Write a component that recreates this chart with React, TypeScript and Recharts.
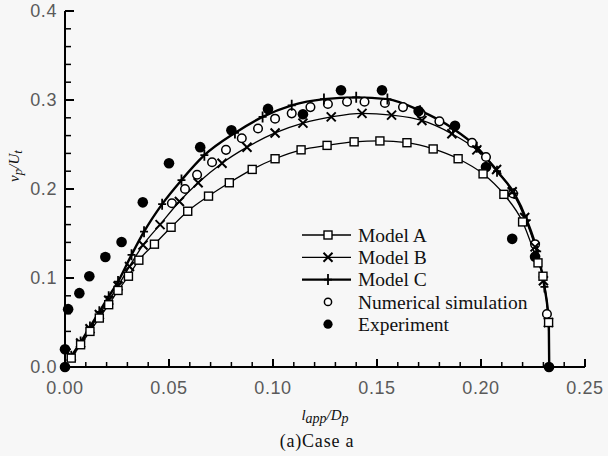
import React from 'react';
import { ComposedChart, Line, Scatter, XAxis, YAxis, Legend } from 'recharts';

// [l_app/D_p, v_p/U_t]
const modelA: [number, number][] = [
  [0.003, 0.010], [0.0075, 0.025], [0.012, 0.040], [0.0165, 0.055], [0.021, 0.070],
  [0.0255, 0.086], [0.0305, 0.102], [0.0355, 0.120], [0.043, 0.138], [0.051, 0.157],
  [0.059, 0.175], [0.069, 0.192], [0.079, 0.207], [0.090, 0.222], [0.101, 0.234],
  [0.1135, 0.244], [0.126, 0.249], [0.139, 0.253], [0.1514, 0.254], [0.1644, 0.252],
  [0.177, 0.245], [0.189, 0.234], [0.201, 0.217], [0.211, 0.194], [0.220, 0.163],
  [0.2274, 0.117], [0.2298, 0.102], [0.2325, 0.050], [0.2328, 0.0],
];

const modelB: [number, number][] = [
  [0.003, 0.012], [0.0075, 0.027], [0.012, 0.043], [0.0165, 0.059], [0.021, 0.075],
  [0.0255, 0.091], [0.031, 0.113], [0.0375, 0.137], [0.0457, 0.160], [0.055, 0.186],
  [0.064, 0.207], [0.0755, 0.229], [0.0875, 0.247], [0.101, 0.263], [0.1144, 0.274],
  [0.128, 0.281], [0.1428, 0.285], [0.157, 0.283], [0.1716, 0.277], [0.186, 0.262],
  [0.198, 0.244], [0.2075, 0.222], [0.215, 0.197], [0.221, 0.168], [0.226, 0.135],
  [0.230, 0.097], [0.2324, 0.050], [0.2328, 0.0],
];

const modelC: [number, number][] = [
  [0.003, 0.012], [0.0075, 0.028], [0.012, 0.045], [0.0165, 0.062], [0.021, 0.079],
  [0.0255, 0.096], [0.032, 0.126], [0.038, 0.152], [0.0467, 0.183], [0.056, 0.210],
  [0.067, 0.238], [0.0817, 0.263], [0.095, 0.281], [0.109, 0.294], [0.1245, 0.301],
  [0.140, 0.303], [0.155, 0.301], [0.1707, 0.288], [0.1865, 0.268], [0.198, 0.247],
  [0.2077, 0.220], [0.216, 0.195], [0.222, 0.165], [0.227, 0.130], [0.2305, 0.090],
  [0.2326, 0.050], [0.2328, 0.0],
];

const numerical: [number, number][] = [
  [0.0514, 0.184], [0.0577, 0.200], [0.0635, 0.216], [0.0707, 0.230], [0.0774, 0.244],
  [0.085, 0.257], [0.0928, 0.268], [0.101, 0.279], [0.109, 0.285], [0.118, 0.292],
  [0.1264, 0.2955], [0.1356, 0.298], [0.144, 0.298], [0.1538, 0.2966], [0.1625, 0.292],
  [0.171, 0.285], [0.180, 0.276], [0.1957, 0.252], [0.2024, 0.236], [0.2154, 0.195],
  [0.226, 0.138], [0.2317, 0.0596],
];

const experiment: [number, number][] = [
  [0.0, 0.0], [0.0, 0.020], [0.0015, 0.065], [0.0069, 0.083], [0.0117, 0.102],
  [0.0194, 0.1236], [0.0272, 0.1404], [0.0374, 0.185], [0.050, 0.229], [0.065, 0.247],
  [0.080, 0.266], [0.0976, 0.290], [0.1144, 0.284], [0.1327, 0.311], [0.1524, 0.311],
  [0.170, 0.2876], [0.1875, 0.271], [0.2024, 0.2247], [0.215, 0.144], [0.226, 0.124],
  [0.2327, 0.0],
];

const seriesNames = ['Model A', 'Model B', 'Model C', 'Numerical simulation', 'Experiment'];
const markerKinds = ['square', 'cross', 'plus', 'open', 'filled'];

const xTicks = [
  0, 0.01, 0.02, 0.03, 0.04, 0.05, 0.06, 0.07, 0.08, 0.09, 0.1, 0.11, 0.12,
  0.13, 0.14, 0.15, 0.16, 0.17, 0.18, 0.19, 0.2, 0.21, 0.22, 0.23, 0.24, 0.25,
];
const xTickLabels = ['0.00', '0.05', '0.10', '0.15', '0.20', '0.25'];
const yTicks = [
  0, 0.02, 0.04, 0.06, 0.08, 0.1, 0.12, 0.14, 0.16, 0.18, 0.2,
  0.22, 0.24, 0.26, 0.28, 0.3, 0.32, 0.34, 0.36, 0.38, 0.4,
];
const yTickLabels = ['0.0', '0.1', '0.2', '0.3', '0.4'];

const toPoints = (arr: [number, number][]) => arr.map(([x, y]) => ({ x, y }));

const SANS = "'Liberation Sans', Arial, sans-serif";
const SERIF = "'Liberation Serif', 'Times New Roman', serif";
const TICK_COLOR = '#5a5a5a';

const labelFor = (labels: string[], v: number) =>
  labels.find((l) => Math.abs(Number(l) - v) < 1e-9);

function Marker({ kind, cx, cy, small }: { kind: string; cx: number; cy: number; small?: boolean }) {
  if (cx == null || cy == null) return null;
  switch (kind) {
    case 'square':
      return <rect x={cx - 4} y={cy - 4} width={8} height={8} fill="#fff" stroke="#000" strokeWidth={1.4} />;
    case 'cross':
      return (
        <path
          d={`M${cx - 4.5},${cy - 4.5}L${cx + 4.5},${cy + 4.5}M${cx - 4.5},${cy + 4.5}L${cx + 4.5},${cy - 4.5}`}
          stroke="#000"
          strokeWidth={2}
          fill="none"
        />
      );
    case 'plus':
      return (
        <path
          d={`M${cx},${cy - 5.5}V${cy + 5.5}M${cx - 4},${cy}H${cx + 4}`}
          stroke="#000"
          strokeWidth={1.8}
          fill="none"
        />
      );
    case 'open':
      return <circle cx={cx} cy={cy} r={small ? 3.6 : 4.3} fill="#fff" stroke="#000" strokeWidth={1.5} />;
    default:
      return <circle cx={cx} cy={cy} r={small ? 4.6 : 5.3} fill="#000" />;
  }
}

function BottomTick(props: any) {
  const { x, y, payload } = props;
  const label = labelFor(xTickLabels, payload.value);
  return (
    <g>
      <line x1={x} x2={x} y1={y} y2={y - (label ? 8 : 5)} stroke="#000" strokeWidth={label ? 2 : 1.5} />
      {label && (
        <text x={x} y={y + 27} textAnchor="middle" fontFamily={SANS} fontSize={18} letterSpacing={0.6} fill={TICK_COLOR}>
          {label}
        </text>
      )}
    </g>
  );
}

function TopTick(props: any) {
  const { x, y, payload } = props;
  const major = labelFor(xTickLabels, payload.value);
  return <line x1={x} x2={x} y1={y} y2={y + (major ? 7 : 5)} stroke="#000" strokeWidth={major ? 2 : 1.5} />;
}

function LeftTick(props: any) {
  const { x, y, payload } = props;
  const label = labelFor(yTickLabels, payload.value);
  return (
    <g>
      <line x1={x} x2={x + (label ? 9 : 6)} y1={y} y2={y} stroke="#000" strokeWidth={label ? 2 : 1.5} />
      {label && (
        <text x={x - 8} y={y} dy="0.36em" textAnchor="end" fontFamily={SANS} fontSize={18} letterSpacing={0.6} fill={TICK_COLOR}>
          {label}
        </text>
      )}
    </g>
  );
}

function RightTick(props: any) {
  const { x, y, payload } = props;
  const major = labelFor(yTickLabels, payload.value);
  return <line x1={x} x2={x - (major ? 9 : 6)} y1={y} y2={y} stroke="#000" strokeWidth={major ? 2 : 1.5} />;
}

function XTitle(props: any) {
  const vb = props.viewBox;
  const cx = vb.x + vb.width / 2;
  return (
    <g>
      <text x={cx} y={vb.y + 53} textAnchor="middle" fontFamily={SERIF} fontStyle="italic" fontSize={15} fill="#111">
        l<tspan fontSize={14} dy={3}>app</tspan>
        <tspan dy={-3}>/D</tspan>
        <tspan fontSize={14} dy={3}>p</tspan>
      </text>
      <text x={cx - 8} y={vb.y + 80} textAnchor="middle" fontFamily={SERIF} fontSize={18} letterSpacing={0.8} fill="#111">
        (a)Case a
      </text>
    </g>
  );
}

function YTitle(props: any) {
  const vb = props.viewBox;
  const x = vb.x + 11;
  const y = vb.y + 155;
  return (
    <text
      x={x}
      y={y}
      transform={`rotate(-90, ${x}, ${y})`}
      textAnchor="middle"
      fontFamily={SERIF}
      fontStyle="italic"
      fontSize={15}
      fill="#111"
    >
      v<tspan fontSize={13} dy={3}>p</tspan>
      <tspan dy={-3}>/U</tspan>
      <tspan fontSize={13} dy={3}>t</tspan>
    </text>
  );
}

function LegendBox() {
  return (
    <svg width={270} height={114} style={{ display: 'block' }}>
      {seriesNames.map((name, i) => {
        const cy = 11 + i * 22.3;
        return (
          <g key={name}>
            {i < 3 && <line x1={2} x2={51} y1={cy} y2={cy} stroke="#000" strokeWidth={i === 2 ? 2.4 : 1.3} />}
            <Marker kind={markerKinds[i]} cx={28} cy={cy} small />
            <text x={58} y={cy} dy="0.35em" fontFamily={SERIF} fontSize={19.5} fill="#111">
              {name}
            </text>
          </g>
        );
      })}
    </svg>
  );
}

// the curves run down to the axis, but the last point carries no marker
const lineDot = (kind: string, tag: string) => (p: any) =>
  p.payload && p.payload.y === 0 ? (
    <g key={`${tag}-${p.index}`} />
  ) : (
    <Marker key={`${tag}-${p.index}`} kind={kind} cx={p.cx} cy={p.cy} />
  );

export default function App() {
  return (
    <div style={{ position: 'absolute', left: 0, top: 0, width: 608, height: 456, background: '#f7f7f7' }}>
      <ComposedChart width={608} height={456} margin={{ top: 11, right: 23, bottom: 59, left: 8 }}>
        <XAxis
          dataKey="x"
          type="number"
          domain={[0, 0.25]}
          ticks={xTicks}
          interval={0}
          tickSize={0}
          tickMargin={0}
          tickLine={false}
          tick={<BottomTick />}
          height={30}
          axisLine={{ stroke: '#000', strokeWidth: 2 }}
          label={{ content: (p: any) => <XTitle {...p} /> }}
        />
        <XAxis
          xAxisId="top"
          orientation="top"
          type="number"
          domain={[0, 0.25]}
          ticks={xTicks}
          interval={0}
          tickSize={0}
          tickMargin={0}
          tickLine={false}
          tick={<TopTick />}
          height={0}
          axisLine={{ stroke: '#000', strokeWidth: 2 }}
        />
        <YAxis
          dataKey="y"
          type="number"
          domain={[0, 0.4]}
          ticks={yTicks}
          interval={0}
          tickSize={0}
          tickMargin={0}
          tickLine={false}
          tick={<LeftTick />}
          width={57}
          axisLine={{ stroke: '#000', strokeWidth: 2 }}
          label={{ content: (p: any) => <YTitle {...p} /> }}
        />
        <YAxis
          yAxisId="right"
          orientation="right"
          type="number"
          domain={[0, 0.4]}
          ticks={yTicks}
          interval={0}
          tickSize={0}
          tickMargin={0}
          tickLine={false}
          tick={<RightTick />}
          width={0}
          axisLine={{ stroke: '#000', strokeWidth: 2 }}
        />
        <Legend
          layout="horizontal"
          verticalAlign="middle"
          align="center"
          content={() => <LegendBox />}
          wrapperStyle={{ left: 300, top: 224, width: 270, height: 114 }}
        />
        <Line
          data={toPoints(modelC)}
          dataKey="y"
          name={seriesNames[2]}
          type="monotone"
          stroke="#000"
          strokeWidth={2.4}
          dot={lineDot('plus', 'c')}
          activeDot={false}
          isAnimationActive={false}
        />
        <Line
          data={toPoints(modelB)}
          dataKey="y"
          name={seriesNames[1]}
          type="monotone"
          stroke="#000"
          strokeWidth={1.3}
          dot={lineDot('cross', 'b')}
          activeDot={false}
          isAnimationActive={false}
        />
        <Line
          data={toPoints(modelA)}
          dataKey="y"
          name={seriesNames[0]}
          type="monotone"
          stroke="#000"
          strokeWidth={1.3}
          dot={lineDot('square', 'a')}
          activeDot={false}
          isAnimationActive={false}
        />
        <Scatter
          data={toPoints(numerical)}
          dataKey="y"
          name={seriesNames[3]}
          shape={(p: any) => <Marker kind="open" cx={p.cx} cy={p.cy} />}
          isAnimationActive={false}
        />
        <Scatter
          data={toPoints(experiment)}
          dataKey="y"
          name={seriesNames[4]}
          shape={(p: any) => <Marker kind="filled" cx={p.cx} cy={p.cy} />}
          isAnimationActive={false}
        />
      </ComposedChart>
    </div>
  );
}
